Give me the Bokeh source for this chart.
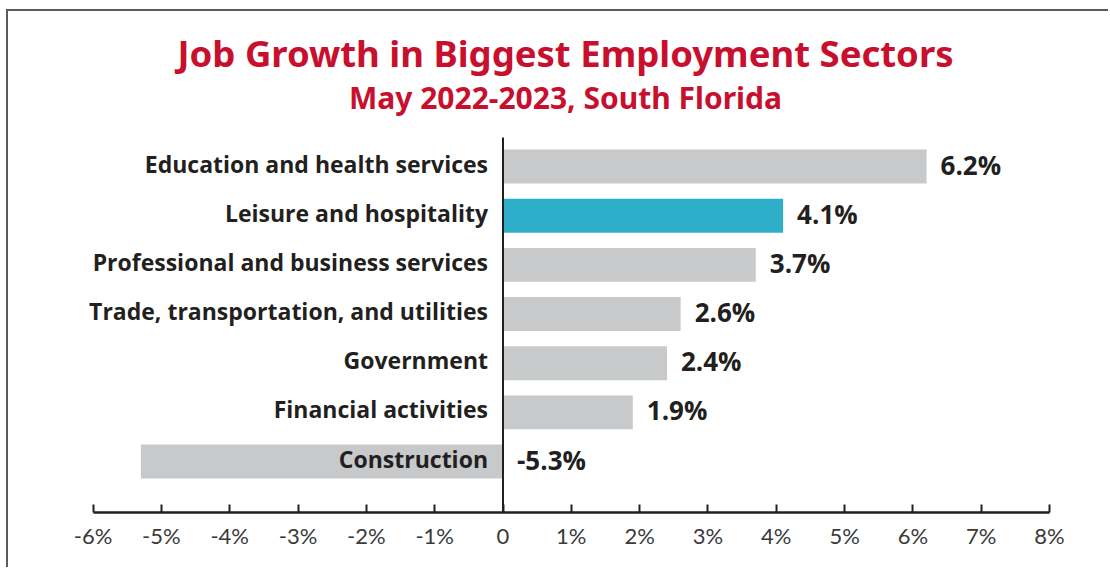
from bokeh.plotting import figure
from bokeh.models import ColumnDataSource, LinearAxis, FixedTicker
from bokeh.embed import file_html
from bokeh.resources import INLINE
from bokeh.core.properties import value

# ---- data -------------------------------------------------------------
sectors = [
    "Education and health services",
    "Leisure and hospitality",
    "Professional and business services",
    "Trade, transportation, and utilities",
    "Government",
    "Financial activities",
    "Construction",
]
growth = [6.2, 4.1, 3.7, 2.6, 2.4, 1.9, -5.3]
highlight = "Leisure and hospitality"

tick_values = [-6, -5, -4, -3, -2, -1, 0, 1, 2, 3, 4, 5, 6, 7, 8]
tick_labels = ["-6%", "-5%", "-4%", "-3%", "-2%", "-1%", "0",
               "1%", "2%", "3%", "4%", "5%", "6%", "7%", "8%"]

title_text = "Job Growth in Biggest Employment Sectors"
subtitle_text = "May 2022-2023, South Florida"

# ---- layout geometry (pixels) -----------------------------------------
OX, OY = 8, 11            # canvas origin inside the bordered page
W, H = 1110 - OX, 569 - OY
ZERO_PX = 502.5           # horizontal pixel of the 0 line
PX_PER_PCT = 68.32
ROW0_PX = 166.0           # centre of first bar row
ROW_PX = 49.17            # row pitch
AXIS_PX = 512             # pixel of the x axis line

x_start = (OX - ZERO_PX) / PX_PER_PCT
x_end = (1110 - ZERO_PX) / PX_PER_PCT
y_end = (ROW0_PX - OY) / ROW_PX
y_start = -(AXIS_PX - ROW0_PX) / ROW_PX


def row_y(py):
    return -(py - ROW0_PX) / ROW_PX


INK = "#231f20"
GREY = "#c8c9cb"
TEAL = "#2eaec8"
RED = "#c8102e"
LABEL_FONT = "Open Sans"

ys = [-i for i in range(len(sectors))]
src = ColumnDataSource(dict(
    y=ys,
    sector=sectors,
    growth=growth,
    color=[TEAL if s == highlight else GREY for s in sectors],
    label_x=[max(g, 0) for g in growth],
    label=[f"{g:.1f}%" for g in growth],
))

p = figure(
    width=W, height=H,
    x_range=(x_start, x_end), y_range=(y_start, y_end),
    x_axis_location=None, y_axis_location=None,
    toolbar_location=None, output_backend="svg",
    min_border_left=0, min_border_right=0, min_border_top=0,
    min_border_bottom=569 - AXIS_PX,
    background_fill_color="white", border_fill_color="white",
)
p.outline_line_color = None
p.xgrid.visible = False
p.ygrid.visible = False
p.margin = (9, 0, 0, 6)
p.styles = {"border-left": "2px solid #5a5a5a", "border-top": "2px solid #5a5a5a"}

# bars
p.hbar(y="y", left=0, right="growth", height=0.69,
       fill_color="color", line_color=None, source=src)

# zero line
p.segment(x0=0, x1=0, y0=row_y(137), y1=y_start, line_color=INK, line_width=2)

# category labels, right-aligned against the zero line
p.text(x=0, y="y", text="sector", source=src,
       text_align="right", text_baseline="middle",
       x_offset=-15, y_offset=-3,
       text_font=value(LABEL_FONT), text_font_style="bold",
       text_font_size="23px", text_color=INK)

# value labels
p.text(x="label_x", y="y", text="label", source=src,
       text_align="left", text_baseline="middle",
       x_offset=14, y_offset=-2,
       text_font=value(LABEL_FONT), text_font_style="bold",
       text_font_size="26px", text_color=INK)

# titles
title_x = (565 - ZERO_PX) / PX_PER_PCT
p.text(x=[title_x], y=[row_y(52)], text=[title_text],
       text_align="center", text_baseline="middle",
       text_font=value("Noto Sans"), text_font_style="bold",
       text_font_size="36.5px", text_color=RED)
p.text(x=[title_x], y=[row_y(97)], text=[subtitle_text],
       text_align="center", text_baseline="middle",
       text_font=value("Noto Sans"), text_font_style="bold",
       text_font_size="30px", text_color=RED)

# x axis
xaxis = LinearAxis(
    ticker=FixedTicker(ticks=tick_values),
    major_label_overrides=dict(zip(tick_values, tick_labels)),
    bounds=(-6, 8),
    axis_line_color=INK, axis_line_width=2.5,
    major_tick_line_color=INK, major_tick_line_width=2,
    major_tick_in=8, major_tick_out=0,
    minor_tick_line_color=None,
    major_label_standoff=9,
    major_label_text_font="Lato",
    major_label_text_font_size="22px",
    major_label_text_color="#3a3a3a",
)
p.add_layout(xaxis, "below")

open("out.html", "w").write(file_html(p, INLINE))
